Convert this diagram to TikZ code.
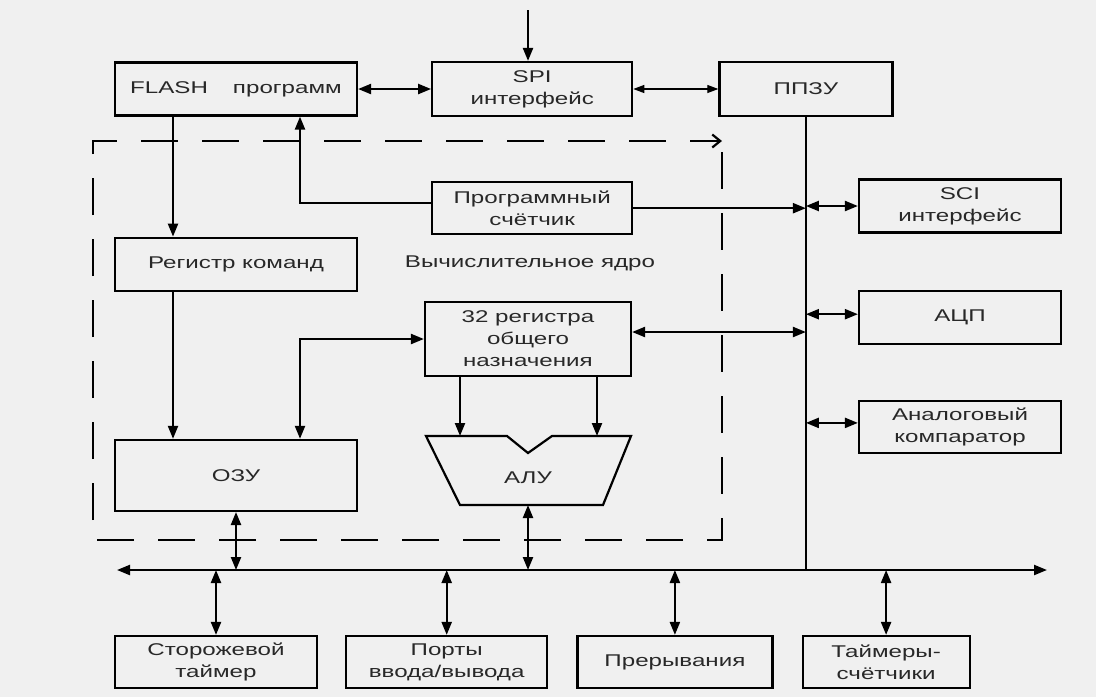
\documentclass[tikz,border=0pt]{standalone}
\usepackage{fontspec}
\setmainfont{Liberation Sans}[FakeStretch=1.42]
\usepackage{tikz}
\usetikzlibrary{positioning, arrows.meta}
\definecolor{paper}{RGB}{240,240,240}
\definecolor{ink}{RGB}{40,40,40}
\tikzstyle{arrow} = [line width=2.2pt,-{Triangle[length=13pt,width=10pt]}]
\tikzstyle{biarrow} = [line width=2.2pt,{Triangle[length=13pt,width=10pt]}-{Triangle[length=13pt,width=10pt]}]
\tikzstyle{thinarrow} = [line width=1.2pt,{Triangle[length=11pt,width=8pt]}-{Triangle[length=11pt,width=8pt]}]

\begin{document}
\begin{tikzpicture}[x=1pt, y=-1pt,
blocknode/.style={rectangle, draw=black, line width=2.2pt, text=ink, align=center, inner sep=0pt, font=\fontsize{17}{22}\selectfont},
labelnode/.style={text=ink, font=\fontsize{17}{22}\selectfont},
coreline/.style={line width=2.2pt, dash pattern=on 37pt off 24pt, -{Straight Barb[length=8pt,width=13pt]}}
]
\fill[paper] (0,0) rectangle (1096,697);
\useasboundingbox (0,0) rectangle (1096,697);

\node[blocknode, minimum width=242pt, minimum height=53pt] (flash) at (236,89) {FLASH\hspace{25pt}программ};
\node[blocknode, minimum width=200pt, minimum height=54pt] (spi) [right=73pt of flash] {SPI\\интерфейс};
\node[blocknode, minimum width=173pt, minimum height=54pt] (ppzu) [right=85pt of spi] {ППЗУ};
\node[blocknode, minimum width=200pt, minimum height=52pt] (counter) [below=64pt of spi] {Программный\\счётчик};
\node[blocknode, minimum width=242pt, minimum height=53pt] (cmdreg) [below=120pt of flash] {Регистр команд};
\node[blocknode, minimum width=242pt, minimum height=71pt] (ram) [below=147pt of cmdreg] {ОЗУ};
\node[blocknode, minimum width=206pt, minimum height=74pt] (regs) at (528,339) {32 регистра\\общего\\назначения};
\node[labelnode] (core) at (530,263) {Вычислительное ядро};

\node[blocknode, minimum width=202pt, minimum height=53pt] (sci) at (960,206) {SCI\\интерфейс};
\node[blocknode, minimum width=202pt, minimum height=53pt] (adc) [below=56pt of sci] {АЦП};
\node[blocknode, minimum width=202pt, minimum height=52pt] (comp) [below=55pt of adc] {Аналоговый\\компаратор};

\node[blocknode, minimum width=202pt, minimum height=52pt] (wdt) at (216,662) {Сторожевой\\таймер};
\node[blocknode, minimum width=201pt, minimum height=52pt] (ports) [right=27pt of wdt] {Порты\\ввода/вывода};
\node[blocknode, minimum width=195pt, minimum height=52pt] (irq) [right=28pt of ports] {Прерывания};
\node[blocknode, minimum width=167pt, minimum height=52pt] (timers) [right=28pt of irq] {Таймеры-\\счётчики};

% АЛУ
\draw[line width=2.2pt] (426,436) -- (507,436) -- (528,453) -- (552,436) -- (631,436)
  -- (603,505) -- (460,505) -- cycle;
\node[labelnode] (alu) at (528,478) {АЛУ};
\coordinate (alu-a) at (460,436);
\coordinate (alu-b) at (597,436);
\coordinate (alu-out) at (528,505);

\coordinate (spi-in) at (528,10);
\coordinate (busL) at (117,570);
\coordinate (busR) at (1047,570);

\draw[coreline] (722,152) -- (722,540) -- (93,540) -- (93,141) -- (722,141);

\draw[arrow] (spi-in) -- (spi.north -| spi-in);
\draw[biarrow] (flash) -- (spi);
\draw[thinarrow] (spi) -- (ppzu);
\draw[line width=2.2pt] (ppzu.south) -- (ppzu.south |- busL);
\draw[biarrow] (busL) -- (busR);

\draw[arrow] ([xshift=-63pt]flash.south) -- ([xshift=-63pt]cmdreg.north);
\draw[arrow] ([xshift=-63pt]cmdreg.south) -- ([xshift=-63pt]ram.north);
\draw[arrow] ([yshift=5pt]counter.west) -| ([xshift=64pt]flash.south);
\draw[arrow] (counter.east) -- (counter.east -| ppzu.south);
\draw[biarrow] (regs.west) -| ([xshift=64pt]ram.north);
\draw[biarrow] ([yshift=7pt]regs.east) -- ([yshift=7pt]regs.east -| ppzu.south);
\draw[arrow] (regs.south -| alu-a) -- (alu-a);
\draw[arrow] (regs.south -| alu-b) -- (alu-b);

\draw[biarrow] (sci.west -| ppzu.south) -- (sci.west);
\draw[biarrow] ([yshift=3pt]adc.west -| ppzu.south) -- ([yshift=3pt]adc.west);
\draw[biarrow] ([yshift=4pt]comp.west -| ppzu.south) -- ([yshift=4pt]comp.west);

\draw[biarrow] (ram.south) -- (ram.south |- busL);
\draw[biarrow] (alu-out) -- (alu-out |- busL);
\draw[biarrow] (wdt.north |- busL) -- (wdt.north);
\draw[biarrow] (ports.north |- busL) -- (ports.north);
\draw[biarrow] (irq.north |- busL) -- (irq.north);
\draw[biarrow] (timers.north |- busL) -- (timers.north);
\end{tikzpicture}
\end{document}
